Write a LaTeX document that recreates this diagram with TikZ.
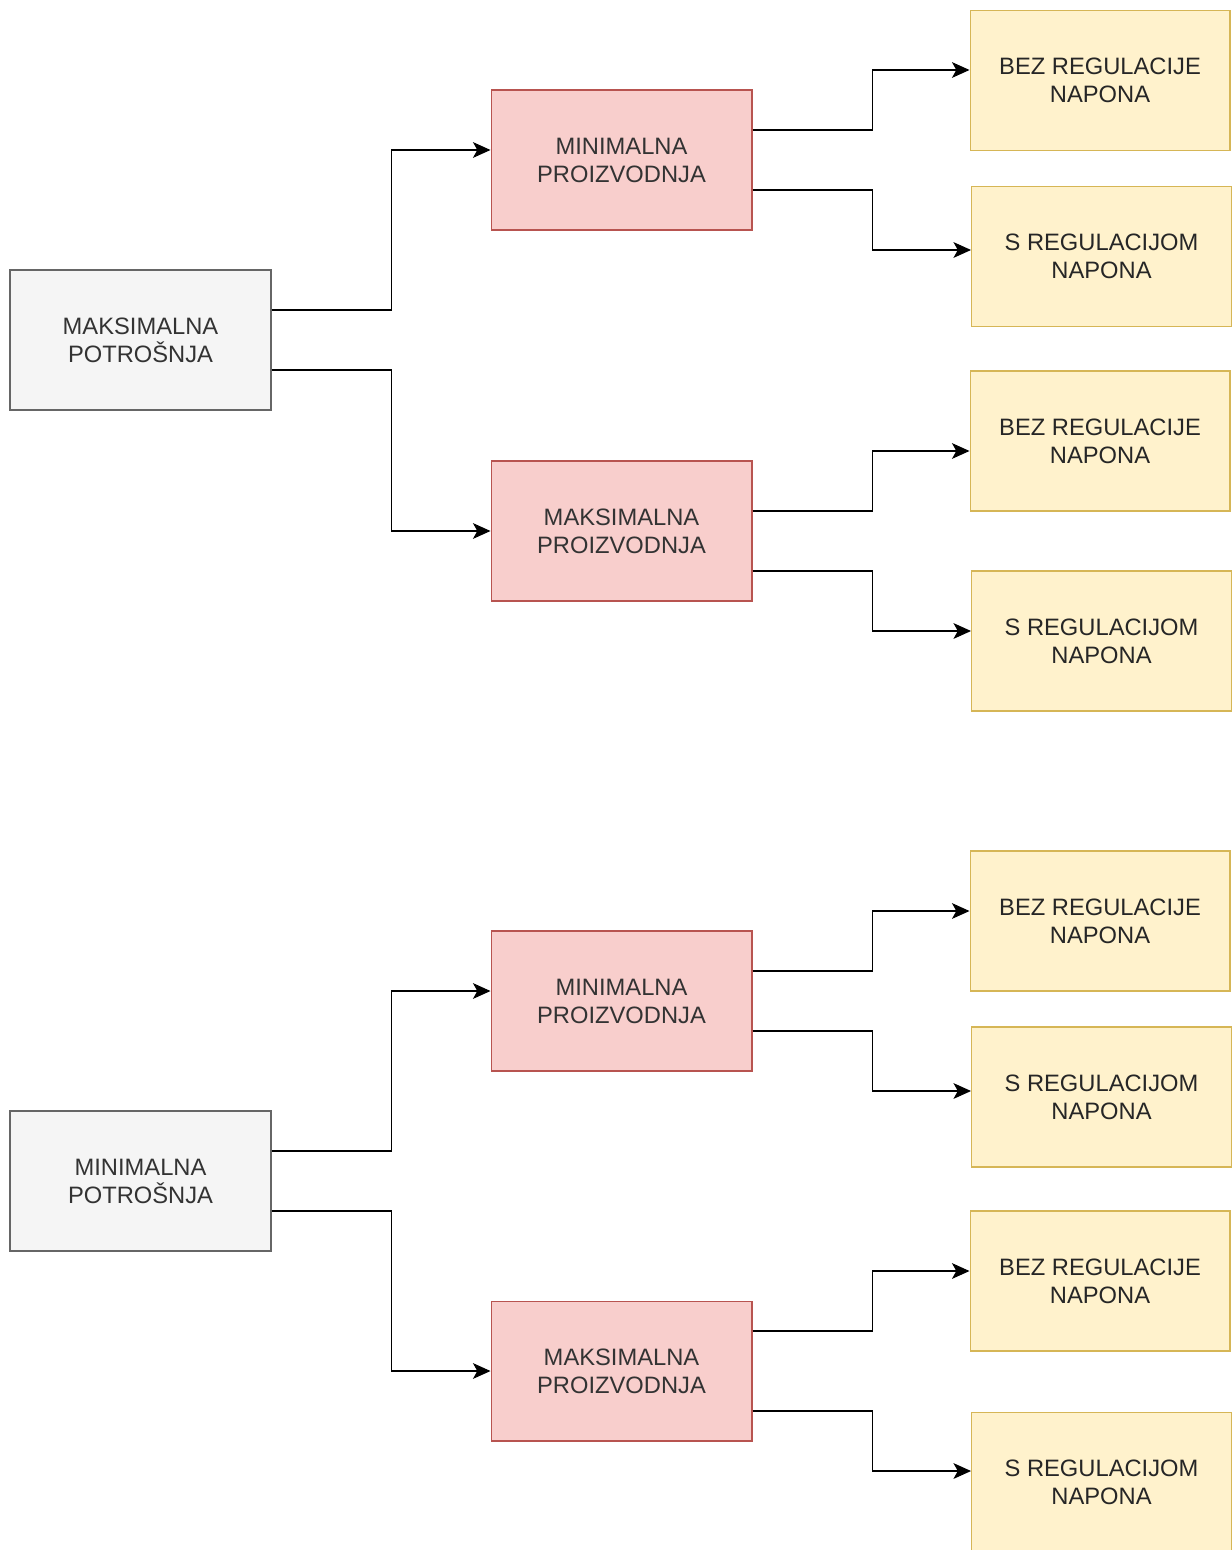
\documentclass[tikz,border=0pt]{standalone}
\usepackage{fontspec}
\setmainfont{Liberation Sans}
\usetikzlibrary{arrows.meta}
\usetikzlibrary{positioning}

\definecolor{potfill}{HTML}{F5F5F5}
\definecolor{potline}{HTML}{666666}
\definecolor{profill}{HTML}{F8CECC}
\definecolor{proline}{HTML}{B85450}
\definecolor{napfill}{HTML}{FFF2CC}
\definecolor{napline}{HTML}{D6B656}
\definecolor{txt}{HTML}{333333}

\begin{document}
\begin{tikzpicture}[
  x=0.02cm, y=-0.02cm,
  > = {Stealth[length=10pt,width=9pt,inset=2.5pt]},
  box/.style = {draw, line width=0.6pt, inner sep=0pt, align=center, text=txt,
                font=\fontsize{13.5}{15.9}\selectfont},
  potr/.style = {box, fill=potfill, draw=potline, minimum width=5.22cm, minimum height=2.8cm},
  proiz/.style = {box, fill=profill, draw=proline, minimum width=5.22cm, minimum height=2.8cm},
  napon/.style = {box, fill=napfill, draw=napline, text=black!85, minimum width=5.2cm, minimum height=2.8cm},
  link/.style = {->, line width=0.6pt}
  ]
	\useasboundingbox (0,0) rectangle (1231,1550);

	% potrosnja
	\node[potr] (pmax) at (140.5,340) {MAKSIMALNA\\POTROŠNJA};
	\node[potr] (pmin) at (140.5,1181) {MINIMALNA\\POTROŠNJA};

	% proizvodnja
	\node[proiz] (mina) at (621.5,160) {MINIMALNA\\PROIZVODNJA};
	\node[proiz] (maxa) at (621.5,531) {MAKSIMALNA\\PROIZVODNJA};
	\node[proiz] (minb) at (621.5,1001) {MINIMALNA\\PROIZVODNJA};
	\node[proiz] (maxb) at (621.5,1371) {MAKSIMALNA\\PROIZVODNJA};

	% regulacija napona
	\node[napon] (bez1) at (1100,80.5) {BEZ REGULACIJE\\NAPONA};
	\node[napon] (sa1) at (1101.5,256.5) {S REGULACIJOM\\NAPONA};
	\node[napon] (bez2) at (1100,441) {BEZ REGULACIJE\\NAPONA};
	\node[napon] (sa2) at (1101.5,641) {S REGULACIJOM\\NAPONA};
	\node[napon] (bez3) at (1100,921) {BEZ REGULACIJE\\NAPONA};
	\node[napon] (sa3) at (1101.5,1097) {S REGULACIJOM\\NAPONA};
	\node[napon] (bez4) at (1100,1281) {BEZ REGULACIJE\\NAPONA};
	\node[napon] (sa4) at (1101.5,1482) {S REGULACIJOM\\NAPONA};

	\draw[link] ([yshift=0.6cm]pmax.east) -- ++(120,0) |- ([yshift=0.2cm]mina.west);
	\draw[link] ([yshift=-0.6cm]pmax.east) -- ++(120,0) |- (maxa.west);
	\draw[link] ([yshift=0.6cm]pmin.east) -- ++(120,0) |- ([yshift=0.2cm]minb.west);
	\draw[link] ([yshift=-0.6cm]pmin.east) -- ++(120,0) |- (maxb.west);

	\draw[link] ([yshift=0.6cm]mina.east) -- ++(120,0) |- ([yshift=0.21cm]bez1.west);
	\draw[link] ([yshift=-0.6cm]mina.east) -- ++(120,0) |- ([yshift=0.13cm]sa1.west);
	\draw[link] ([yshift=0.4cm]maxa.east) -- ++(120,0) |- ([yshift=-0.2cm]bez2.west);
	\draw[link] ([yshift=-0.8cm]maxa.east) -- ++(120,0) |- ([yshift=0.2cm]sa2.west);
	\draw[link] ([yshift=0.6cm]minb.east) -- ++(120,0) |- ([yshift=0.2cm]bez3.west);
	\draw[link] ([yshift=-0.6cm]minb.east) -- ++(120,0) |- ([yshift=0.12cm]sa3.west);
	\draw[link] ([yshift=0.8cm]maxb.east) -- ++(120,0) |- ([yshift=0.2cm]bez4.west);
	\draw[link] ([yshift=-0.8cm]maxb.east) -- ++(120,0) |- ([yshift=0.22cm]sa4.west);

\end{tikzpicture}
\end{document}
